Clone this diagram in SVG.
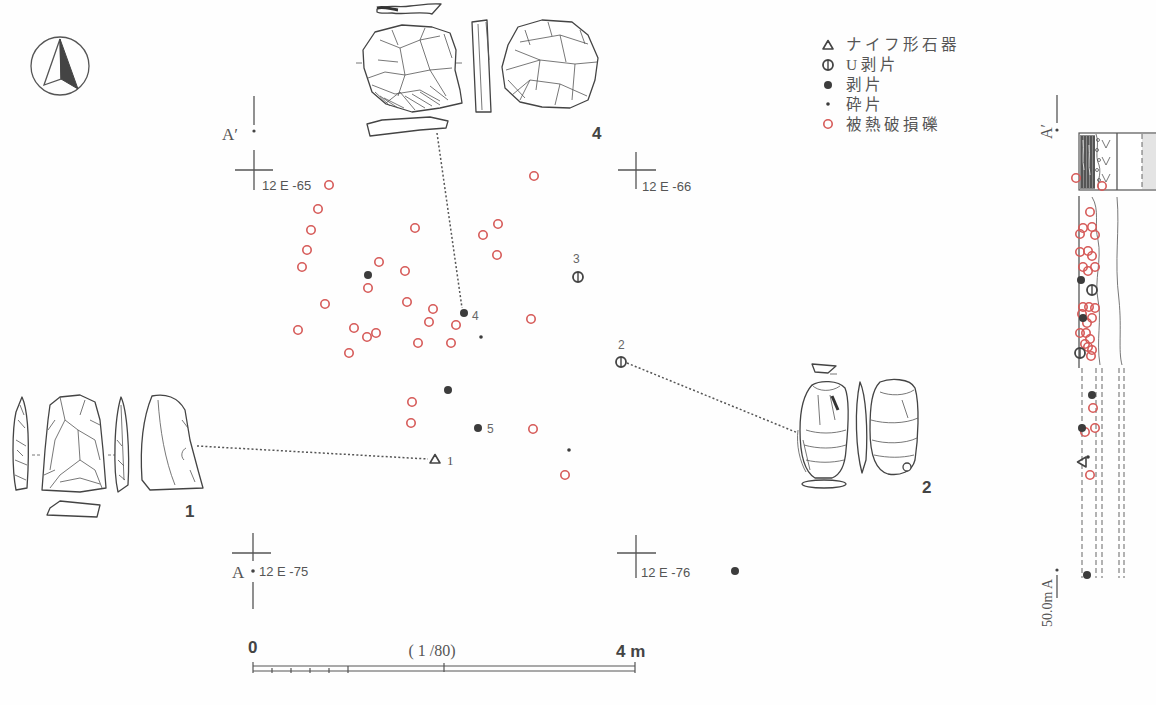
<svg xmlns="http://www.w3.org/2000/svg" width="1156" height="705" viewBox="0 0 1156 705">
  <style>
    .ln { fill: none; stroke: #555; stroke-width: 1.3; }
    .thin { fill: none; stroke: #555; stroke-width: 0.8; }
    .art { fill: #fff; stroke: #444; stroke-width: 1.3; stroke-linejoin: round; }
    .scar { fill: none; stroke: #555; stroke-width: 0.8; }
    .hb { fill: none; stroke: #d65a58; stroke-width: 1.6; }
    .fl { fill: #3c3c3c; }
    .chip { fill: #3c3c3c; }
    .uf { fill: none; stroke: #444; stroke-width: 1.8; }
    .kt { fill: none; stroke: #444; stroke-width: 1.6; stroke-linejoin: round; }
    .dot { fill: none; stroke: #555; stroke-width: 1.5; stroke-dasharray: 2 2.2; }
    .dash { fill: none; stroke: #666; stroke-width: 1; stroke-dasharray: 5 3; }
    .grid { font-family: "Liberation Sans", Arial, sans-serif; font-size: 13px; fill: #555; }
    .lab { font-family: "Liberation Sans", Arial, sans-serif; font-size: 12px; fill: #666; }
    .big { font-family: "Liberation Sans", Arial, sans-serif; font-size: 17px; fill: #444; font-weight: bold; }
    .serif { font-family: "Liberation Serif", "Times New Roman", serif; fill: #555; }
    .leg { font-family: "Liberation Serif", "Noto Sans CJK JP", serif; font-size: 15.5px; fill: #555; letter-spacing: 3.5px; }
  </style>
  <defs>
    <g id="uflake"><circle r="5" class="uf"/><line x1="0" y1="-4.5" x2="0" y2="4.5" stroke="#444" stroke-width="1.4"/></g>
    <circle id="heat" r="4.2" class="hb"/>
    <circle id="flake" r="4" class="fl"/>
    <circle id="chip" r="1.8" class="chip"/>
    <path id="knife" d="M0,-4.5 L5,4 L-5,4 Z" class="kt"/>
  </defs>
  <rect width="1156" height="705" fill="#fefefe"/>

  <!-- north arrow -->
  <g id="north-arrow">
    <circle cx="60" cy="66" r="29" class="ln" stroke-width="1.5"/>
    <path d="M60,39 L44,85 L61,79 Z" class="ln" stroke-width="1.2"/>
    <path d="M60,39 L78,89 L61,79 Z" fill="#444" stroke="#444" stroke-width="1"/>
  </g>

  <!-- grid points and section line ends -->
  <g id="grid">
    <path d="M254,96 V125" class="ln"/>
    <circle cx="254" cy="131" r="1.6" fill="#444"/>
    <text x="222" y="140" class="serif" font-size="17">A′</text>
    <path d="M254,150 V190 M235,170 H273" class="ln"/>
    <text x="262" y="190" class="grid">12 E -65</text>
    <path d="M636,152 V189 M618,170 H656" class="ln"/>
    <text x="642" y="191" class="grid">12 E -66</text>
    <path d="M253,533 V561 M253,582 V609 M232,553 H271" class="ln"/>
    <circle cx="253" cy="571" r="1.8" fill="#444"/>
    <text x="232" y="578" class="serif" font-size="17">A</text>
    <text x="259" y="576" class="grid">12 E -75</text>
    <path d="M636,535 V578 M617,553 H656" class="ln"/>
    <text x="641" y="577" class="grid">12 E -76</text>
  </g>

  <!-- stone tool 4 -->
  <g id="artifact-4">
    <path d="M377,9 C386,4 398,8 410,6 C421,5 430,3 441,4 L432,14 C420,11 405,15 392,13 C386,13 380,14 377,12 Z" class="art"/>
    <path d="M377,8 C384,6 390,9 398,10" fill="none" stroke="#333" stroke-width="3"/>
    <path d="M375,32 L402,25 L432,27 L450,33 L456,50 L455,70 L460,90 L462,103 L440,108 L412,112 L386,104 L372,92 L364,68 L363,50 Z" class="art"/>
    <path d="M380,40 L400,48 L420,40 L440,36 M400,48 L405,75 L398,96 M420,40 L430,70 L446,96 M372,85 L395,94 L420,90 L440,101 M405,75 L430,70 L452,68 M378,60 L398,62 M386,103 L400,92 L415,110 M430,86 L448,100 M392,30 L398,45 M425,28 L420,40 M368,78 L385,72 L405,75 M444,34 L452,58 M375,92 L390,106 M380,96 L398,108 M384,98 L404,108 M405,96 L425,108 M412,94 L432,106 M420,92 L440,105" class="scar"/>
    <path d="M356,63 H362 M456,63 H462" class="thin"/>
    <path d="M472,22 L487,20 L491,112 L476,112 Z" class="art"/>
    <path d="M478,24 L482,110 M486,22 L489,60" class="scar"/>
    <path d="M518,27 L542,20 L572,22 L588,35 L598,58 L595,80 L588,100 L570,108 L542,107 L520,102 L505,88 L502,67 L508,45 Z" class="art"/>
    <path d="M520,42 L560,35 L588,44 M506,70 L540,60 L575,64 L597,62 M512,95 L530,80 L560,84 L587,96 M560,35 L566,62 M540,60 L536,90 M575,64 L572,100 M525,30 L530,45 M548,22 L552,36 M580,30 L585,44 M515,50 L540,60 M530,80 L520,100 M560,84 L555,105 M508,80 L525,98" class="scar"/>
    <path d="M367,124 L382,120 L430,117 L448,121 L446,128 L420,130 L370,136 Z" class="art"/>
    <text x="592" y="139" class="big">4</text>
  </g>

  <!-- stone tool 1 -->
  <g id="artifact-1">
    <path d="M22,397 C28,410 29,440 28,470 L27,488 L16,490 C12,470 12,430 16,412 Z" class="art"/>
    <path d="M18,420 L25,428 M16,440 L26,446 M15,460 L27,465 M15,475 L26,480 M20,405 L24,415 M17,450 L23,456" class="scar" stroke-width="1.1"/>
    <path d="M50,405 L60,397 L80,395 L95,402 L100,420 L103,450 L106,488 L80,492 L42,490 L45,450 L48,420 Z" class="art"/>
    <path d="M60,397 L65,420 L78,430 L80,460 L95,470 M65,420 L55,440 L50,470 M78,430 L95,440 L100,460 M80,460 L60,475 L50,488 M85,400 L80,415 M95,470 L102,488 M55,420 L48,430 M90,420 L100,425 M44,475 L55,470 M60,482 L80,478 L100,484" class="scar"/>
    <path d="M32,455 H40 M108,455 H116" class="thin" stroke-dasharray="3 2"/>
    <path d="M121,397 C127,410 130,450 128,485 L118,492 C113,470 114,420 121,397 Z" class="art"/>
    <path d="M121,405 L124,480 M117,440 L122,446 M118,460 L124,466 M119,475 L125,480" class="scar"/>
    <path d="M152,396 C165,393 178,397 185,410 L190,440 L198,470 L203,488 L150,490 L142,480 C140,450 142,420 152,396 Z" class="art"/>
    <path d="M158,400 C160,430 165,460 175,485 M182,420 L188,428 M186,448 C182,450 180,456 184,460 M190,470 L195,482" class="scar"/>
    <path d="M50,508 L60,501 L100,505 L97,517 L47,515 Z" class="art"/>
    <text x="185" y="517" class="big" font-weight="normal">1</text>
  </g>

  <!-- stone tool 2 -->
  <g id="artifact-2">
    <path d="M812,364 L836,366 L828,373 L815,372 Z" class="art"/>
    <path d="M830,374 H837" class="thin"/>
    <path d="M812,385 C820,380 838,380 845,388 C850,400 848,430 846,450 C845,465 840,475 832,478 L815,478 C805,472 800,455 800,430 C800,410 803,395 812,385 Z" class="art"/>
    <path d="M812,385 C818,392 832,392 840,386 M806,430 C818,434 834,434 846,430 M804,445 C818,449 834,449 846,445 M806,460 C818,463 832,463 844,460 M818,395 L820,425 M830,395 L835,420 M803,440 L810,470" class="scar"/>
    <path d="M832,396 L838,410" stroke="#333" stroke-width="3"/>
    <path d="M798,430 C796,445 800,462 806,472" class="thin"/>
    <ellipse cx="824" cy="484" rx="22" ry="4" class="art"/>
    <path d="M860,382 C866,395 868,430 866,460 L862,473 C856,450 854,410 860,382 Z" class="art"/>
    <path d="M880,382 C890,378 910,378 915,388 C920,405 918,440 915,460 C912,472 900,476 888,474 C875,470 870,455 870,430 C870,405 872,390 880,382 Z" class="art"/>
    <path d="M880,392 C890,396 905,396 914,390 M871,420 C885,424 905,424 918,418 M872,440 C885,444 905,444 917,438 M874,455 C888,458 902,458 914,455 M902,400 L908,418" class="scar"/>
    <circle cx="907" cy="467" r="4" class="art"/>
    <text x="922" y="493" class="big" font-weight="normal">2</text>
  </g>

  <!-- leader lines from finds to drawings -->
  <g id="connectors">
    <path d="M437,133 L462,308" class="dot"/>
    <path d="M197,446 L428,459" class="dot"/>
    <path d="M627,363 L798,433" class="dot"/>
  </g>

  <!-- heat-fractured pebbles -->
  <g id="pebbles">
    <use href="#heat" x="329" y="185"/><use href="#heat" x="318" y="209"/><use href="#heat" x="311" y="230"/>
    <use href="#heat" x="307" y="250"/><use href="#heat" x="302" y="267"/><use href="#heat" x="379" y="262"/>
    <use href="#heat" x="368" y="288"/><use href="#heat" x="325" y="304"/><use href="#heat" x="298" y="330"/>
    <use href="#heat" x="354" y="328"/><use href="#heat" x="367" y="337"/><use href="#heat" x="376" y="333"/>
    <use href="#heat" x="349" y="353"/><use href="#heat" x="415" y="228"/><use href="#heat" x="405" y="271"/>
    <use href="#heat" x="407" y="302"/><use href="#heat" x="433" y="309"/><use href="#heat" x="429" y="322"/>
    <use href="#heat" x="456" y="325"/><use href="#heat" x="418" y="343"/><use href="#heat" x="451" y="343"/>
    <use href="#heat" x="534" y="176"/><use href="#heat" x="498" y="224"/><use href="#heat" x="483" y="235"/>
    <use href="#heat" x="497" y="255"/><use href="#heat" x="531" y="319"/><use href="#heat" x="412" y="402"/>
    <use href="#heat" x="411" y="423"/><use href="#heat" x="533" y="429"/><use href="#heat" x="565" y="475"/>
  </g>

  <!-- flakes, chips and tools in plan -->
  <g id="finds">
    <use href="#flake" x="368" y="275"/>
    <use href="#flake" x="464" y="313"/>
    <text x="472" y="320" class="lab">4</text>
    <use href="#chip" x="481" y="337"/>
    <use href="#flake" x="448" y="390"/>
    <use href="#flake" x="478" y="428"/>
    <text x="487" y="433" class="lab">5</text>
    <use href="#chip" x="569" y="450"/>
    <use href="#flake" x="735" y="571"/>
    <use href="#uflake" x="578" y="277"/>
    <text x="573" y="263" class="lab">3</text>
    <use href="#uflake" x="621" y="362"/>
    <text x="618" y="349" class="lab">2</text>
    <use href="#knife" x="435" y="459"/>
    <text x="447" y="465" class="serif" font-size="13">1</text>
  </g>

  <!-- legend -->
  <g id="legend">
    <use href="#knife" x="828" y="45"/>
    <text x="846" y="50" class="leg">ナイフ形石器</text>
    <use href="#uflake" x="828" y="65"/>
    <text x="846" y="70" class="leg">U剥片</text>
    <use href="#flake" x="828" y="85"/>
    <text x="846" y="90" class="leg">剥片</text>
    <circle cx="828" cy="104" r="1.8" class="chip"/>
    <text x="846" y="110" class="leg">砕片</text>
    <use href="#heat" x="828" y="124"/>
    <text x="846" y="130" class="leg" fill="#d4463f">被熱破損礫</text>
  </g>

  <!-- section A-A′ -->
  <g id="section">
    <path d="M1057,95 V123" class="ln"/>
    <circle cx="1057" cy="130" r="1.6" fill="#444"/>
    <text transform="translate(1052,139) rotate(-90)" class="serif" font-size="16">A′</text>
    <rect x="1079" y="133" width="80" height="57" fill="#fff" stroke="#555" stroke-width="1.2"/>
    <rect x="1142" y="134" width="14" height="55" fill="#e4e4e4"/>
    <path d="M1142,134 V189" class="dash"/>
    <path d="M1117,133 V190" class="ln"/>
    <rect x="1080" y="135" width="15" height="54" fill="#8a8a8a"/>
    <path d="M1082,136 V188 M1085,136 V188 M1088,136 V188 M1091,136 V188 M1094,136 V188" stroke="#333" stroke-width="1.2"/>
    <path d="M1083,140 C1084,150 1082,160 1084,170 M1089,145 C1090,155 1088,165 1090,175" stroke="#ddd" stroke-width="1"/>
    <path d="M1096,134 C1100,145 1094,155 1099,165 C1102,175 1096,182 1099,190" class="thin"/>
    <g fill="none" stroke="#555" stroke-width="0.8">
      <circle cx="1098" cy="140" r="1.5"/><circle cx="1097" cy="150" r="1.5"/><circle cx="1099" cy="160" r="1.5"/>
      <circle cx="1097" cy="170" r="1.5"/><circle cx="1099" cy="180" r="1.5"/>
    </g>
    <path d="M1102,140 L1106,148 L1110,140 M1102,157 L1106,165 L1110,157 M1102,174 L1106,182 L1110,174" class="thin"/>
    <!-- profile lines -->
    <path d="M1079,196 V368" class="ln" stroke-width="1"/>
    <path d="M1092,197 C1100,210 1094,225 1098,240 C1102,260 1094,280 1098,300 C1102,320 1096,340 1100,365" class="thin"/>
    <path d="M1117,197 C1120,230 1114,260 1119,300 C1122,330 1118,350 1122,365" class="thin"/>
    <path d="M1082,368 V578 M1096,368 V578 M1102,368 V578 M1119,368 V578 M1124,368 V578" class="dash"/>
    <g>
      <use href="#heat" x="1076" y="178"/><use href="#heat" x="1102" y="186"/>
      <use href="#heat" x="1090" y="212"/><use href="#heat" x="1083" y="228"/><use href="#heat" x="1092" y="227"/>
      <use href="#heat" x="1080" y="234"/><use href="#heat" x="1095" y="235"/><use href="#heat" x="1080" y="252"/>
      <use href="#heat" x="1088" y="251"/><use href="#heat" x="1092" y="256"/><use href="#heat" x="1083" y="267"/>
      <use href="#heat" x="1088" y="271"/><use href="#heat" x="1095" y="267"/><use href="#heat" x="1083" y="307"/>
      <use href="#heat" x="1089" y="307"/><use href="#heat" x="1095" y="308"/><use href="#heat" x="1082" y="314"/>
      <use href="#heat" x="1087" y="323"/><use href="#heat" x="1092" y="318"/><use href="#heat" x="1080" y="333"/>
      <use href="#heat" x="1086" y="333"/><use href="#heat" x="1090" y="339"/><use href="#heat" x="1085" y="344"/>
      <use href="#heat" x="1092" y="350"/><use href="#heat" x="1088" y="347"/><use href="#heat" x="1091" y="356"/>
      <use href="#heat" x="1093" y="408"/><use href="#heat" x="1085" y="432"/><use href="#heat" x="1095" y="428"/>
      <use href="#heat" x="1090" y="475"/>
    </g>
    <use href="#flake" x="1081" y="280"/>
    <use href="#flake" x="1083" y="318"/>
    <use href="#uflake" x="1092" y="290"/>
    <use href="#uflake" x="1080" y="353"/>
    <use href="#flake" x="1092" y="395"/>
    <use href="#flake" x="1082" y="428"/>
    <use href="#knife" transform="translate(1082,462) rotate(-90)"/>
    <use href="#chip" x="1088" y="457"/>
    <use href="#flake" x="1087" y="575"/>
    <circle cx="1057" cy="570" r="1.6" fill="#444"/>
    <path d="M1057,575 V598" class="ln"/>
    <text transform="translate(1052,627) rotate(-90)" class="serif" font-size="14">50.0m A</text>
  </g>

  <!-- scale bar -->
  <g id="scale-bar">
    <text x="248" y="653" class="big" font-weight="normal" font-size="16">0</text>
    <text x="432" y="656" class="serif" font-size="16" text-anchor="middle">( 1 /80)</text>
    <text x="616" y="657" class="big" font-weight="normal" font-size="16">4 m</text>
    <path d="M253,666 H635 M253,671 H635" stroke="#555" stroke-width="1.2"/>
    <path d="M253,662 V673 M272,668 V673 M291,668 V673 M310,668 V673 M329,668 V673 M348,666 V673 M444,663 V672 M635,662 V673" stroke="#555" stroke-width="1.2"/>
  </g>
</svg>
